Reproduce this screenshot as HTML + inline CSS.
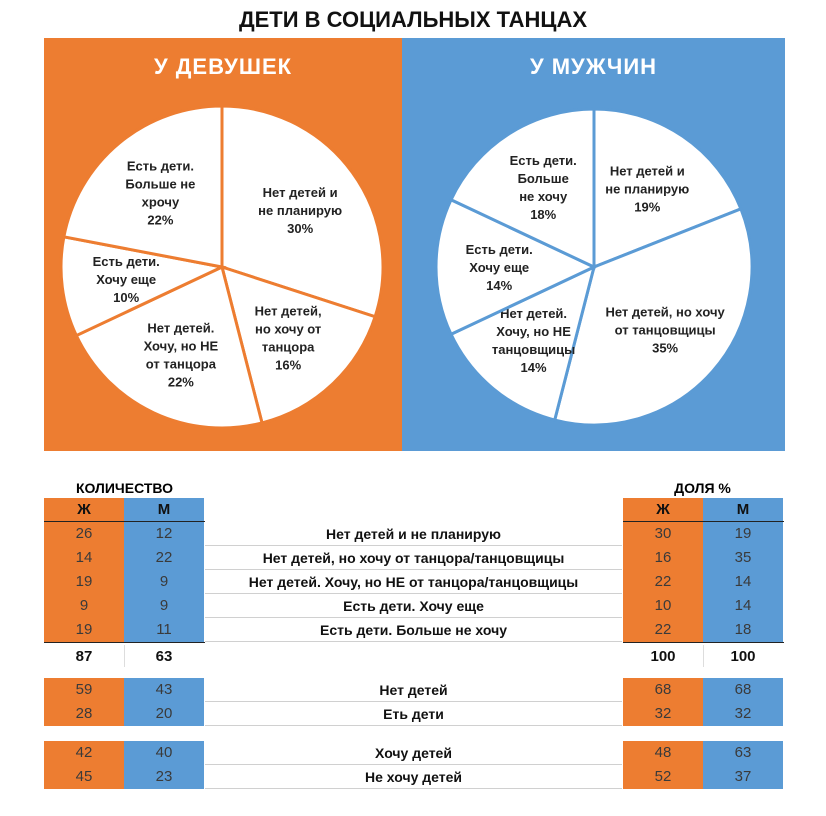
<!DOCTYPE html>
<html><head><meta charset="utf-8"><style>
body{margin:0;width:826px;height:816px;background:#fff;font-family:"Liberation Sans","Noto Sans CJK SC",sans-serif;position:relative;overflow:hidden}
.a{position:absolute}
.t{font-weight:bold;text-align:center}
.c{position:absolute;width:80px;height:24px;line-height:24px;text-align:center;font-size:15px;color:#3a3a3a}
.o{background:#ED7D31}.b{background:#5B9BD5}
.lab{position:absolute;left:205px;width:417px;text-align:center;font-weight:bold;font-size:14px;height:24px;line-height:24px;color:#111;border-bottom:1px solid #d0d0d0;box-sizing:border-box}
</style></head><body>
<div class="a t" style="left:0;width:826px;top:7px;font-size:22px;color:#111">ДЕТИ В СОЦИАЛЬНЫХ ТАНЦАХ</div>
<div class="a o" style="left:44px;top:38px;width:358px;height:413px"></div>
<div class="a b" style="left:402px;top:38px;width:383px;height:413px"></div>
<div class="a t" style="left:44px;width:358px;top:54px;font-size:22px;color:#fff;letter-spacing:1px">У ДЕВУШЕК</div>
<div class="a t" style="left:402px;width:383px;top:54px;font-size:22px;color:#fff;letter-spacing:1px">У МУЖЧИН</div>
<svg id="pies" class="a" style="left:0;top:0" width="826" height="460"></svg>

<div class="a t" style="left:44px;width:161px;top:480px;font-size:14px">КОЛИЧЕСТВО</div>
<div class="a t" style="left:622px;width:161px;top:480px;font-size:14px">ДОЛЯ %</div>
<div id="tbl"></div>

<script>
const womenPct=[30,16,22,10,22];
const menPct=[19,35,14,14,18];
const womenLabels=[["Нет детей и","не планирую"],["Нет детей,","но хочу от","танцора"],["Нет детей.","Хочу, но НЕ","от танцора"],["Есть дети.","Хочу еще"],["Есть дети.","Больше не","хрочу"]];
const menLabels=[["Нет детей и","не планирую"],["Нет детей, но хочу","от танцовщицы"],["Нет детей.","Хочу, но НЕ","танцовщицы"],["Есть дети.","Хочу еще"],["Есть дети.","Больше","не хочу"]];
const svg=document.getElementById('pies');
const NS='http://www.w3.org/2000/svg';
function pie(vals,labels,cx,cy,r,col,name){
  const tot=vals.reduce((a,b)=>a+b,0);
  let a0=0;
  vals.forEach((v,i)=>{
    const a1=a0+v/tot*2*Math.PI;
    const x0=cx+r*Math.sin(a0),y0=cy-r*Math.cos(a0),x1=cx+r*Math.sin(a1),y1=cy-r*Math.cos(a1);
    const p=document.createElementNS(NS,'path');
    p.setAttribute('d',`M${cx},${cy}L${x0},${y0}A${r},${r} 0 ${a1-a0>Math.PI?1:0} 1 ${x1},${y1}Z`);
    p.setAttribute('fill','#fff');p.setAttribute('stroke',col);p.setAttribute('stroke-width','3');
    
    
    svg.appendChild(p);
    const am=(a0+a1)/2,rr=r*0.6;
    const lx=cx+rr*Math.sin(am),ly=cy-rr*Math.cos(am);
    const lines=labels[i].concat([v+'%']);
    const t=document.createElementNS(NS,'text');
    
    
    t.setAttribute('text-anchor','middle');t.setAttribute('font-size','13');t.setAttribute('font-weight','bold');t.setAttribute('fill','#222');
    lines.forEach((s,k)=>{const ts=document.createElementNS(NS,'tspan');ts.setAttribute('x',lx);ts.setAttribute('y',ly+(k-(lines.length-1)/2)*18+5);ts.textContent=s;t.appendChild(ts);});
    svg.appendChild(t);
    a0=a1;
  });
}
pie(womenPct,womenLabels,222,267,161,'#ED7D31','women');
pie(menPct,menLabels,594,267,158,'#5B9BD5','men');

const rowLabels=["Нет детей и не планирую","Нет детей, но хочу от танцора/танцовщицы","Нет детей. Хочу, но НЕ от танцора/танцовщицы","Есть дети. Хочу еще","Есть дети. Больше не хочу"];
const cntW=[26,14,19,9,19],cntM=[12,22,9,9,11];
const sumLabels=["Нет детей","Еть дети"],sumCW=[59,28],sumCM=[43,20],sumPW=[68,32],sumPM=[68,32];
const wantLabels=["Хочу детей","Не хочу детей"],wCW=[42,45],wCM=[40,23],wPW=[48,52],wPM=[63,37];
const tb=document.getElementById('tbl');
function cell(x,y,cls,txt,nm,bold){
  const d=document.createElement('div');d.className='c '+cls;d.style.left=x+'px';d.style.top=y+'px';d.textContent=txt;
  if(bold){d.style.fontWeight='bold';d.style.color='#111';}
  
  
  tb.appendChild(d);
}
function lab(y,txt){const d=document.createElement('div');d.className='lab';d.style.top=y+'px';d.textContent=txt;
  
  
  tb.appendChild(d);}
function row(y,l,a,b,c,d){cell(44,y,'o',a,'count-women');cell(124,y,'b',b,'count-men');cell(623,y,'o',c,'share-women');cell(703,y,'b',d,'share-men');if(l)lab(y,l);}
[44,623].forEach(x=>{cell(x,498,'o','Ж','col-header-women',true);cell(x+80,498,'b','М','col-header-men',true);
  const ln=document.createElement('div');ln.className='a';ln.style.cssText=`left:${x}px;top:521px;width:161px;height:1px;background:#222`;tb.appendChild(ln);
  const ln2=document.createElement('div');ln2.className='a';ln2.style.cssText=`left:${x}px;top:642px;width:161px;height:1px;background:#222`;tb.appendChild(ln2);
  const ln3=document.createElement('div');ln3.className='a';ln3.style.cssText=`left:${x+80}px;top:645px;width:1px;height:22px;background:#ddd`;tb.appendChild(ln3);});
rowLabels.forEach((l,i)=>row(522+i*24,l,cntW[i],cntM[i],womenPct[i],menPct[i]));
cell(44,645,'','87','total-women',true);cell(124,645,'','63','total-men',true);cell(623,645,'','100','total-share-women',true);cell(703,645,'','100','total-share-men',true);
sumLabels.forEach((l,i)=>row(678+i*24,l,sumCW[i],sumCM[i],sumPW[i],sumPM[i]));
wantLabels.forEach((l,i)=>row(741+i*24,l,wCW[i],wCM[i],wPW[i],wPM[i]));
</script>
</body></html>
